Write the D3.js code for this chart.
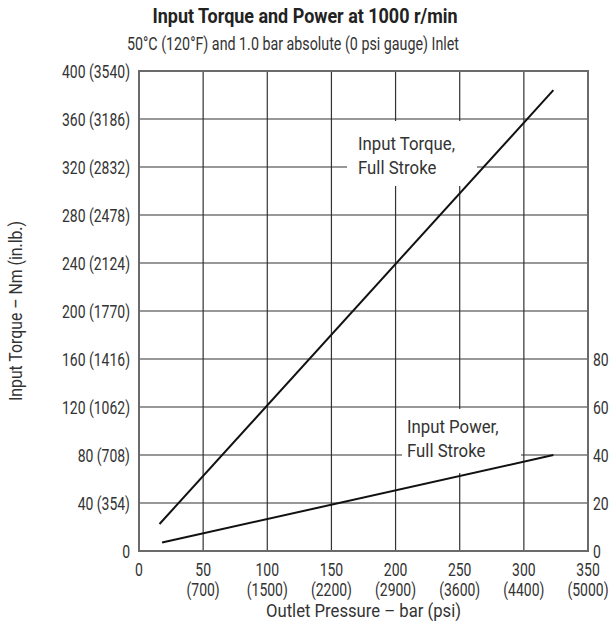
<!DOCTYPE html>
<html>
<head>
<meta charset="utf-8">
<script src="https://cdn.jsdelivr.net/npm/d3@7/dist/d3.min.js"></script>
<style>
  html, body { margin: 0; padding: 0; background: #fff; }
  svg { display: block; font-family: Roboto, "Liberation Sans", sans-serif; }
</style>
</head>
<body>
<div id="chart"></div>
<script>
// outlet pressure (bar) ticks and their psi equivalents
const barTicks = [0, 50, 100, 150, 200, 250, 300, 350];
const psiLabels = ['', '(700)', '(1500)', '(2200)', '(2900)', '(3600)', '(4400)', '(5000)'];

// torque (Nm) ticks and in.lb. equivalents
const torqueTicks = [0, 40, 80, 120, 160, 200, 240, 280, 320, 360, 400];
const inlbLabels = ['', '(354)', '(708)', '(1062)', '(1416)', '(1770)', '(2124)', '(2478)', '(2832)', '(3186)', '(3540)'];

// power (kW) ticks on the right
const powerTicks = [0, 20, 40, 60, 80];

// curves: [bar, value]
const torqueFull = [[16, 22.5], [323, 384]];
const powerFull = [[18, 3.5], [323, 40]];

const W = 612, H = 624;
const svg = d3.select('#chart').append('svg').attr('width', W).attr('height', H);

const x = d3.scaleLinear().domain([0, 350]).range([139, 588]);
const y = d3.scaleLinear().domain([0, 400]).range([551, 71]);
const yP = d3.scaleLinear().domain([0, 200]).range([551, 71]);

// the original uses a condensed face, so squeeze glyphs horizontally
function squeeze(sel, k) {
  sel.each(function () {
    const w = this.getComputedTextLength();
    d3.select(this).attr('textLength', w * k).attr('lengthAdjust', 'spacingAndGlyphs');
  });
}
function fit(sel, target) {
  const w = sel.node().getComputedTextLength();
  sel.attr('textLength', target).attr('lengthAdjust', 'spacingAndGlyphs');
  return target / w;
}

// titles
const title = svg.append('text').attr('x', 305).attr('y', 23).attr('text-anchor', 'middle')
  .attr('font-size', 20).attr('font-weight', 700).attr('fill', '#222')
  .text('Input Torque and Power at 1000 r/min');
fit(title, 305);
const sub = svg.append('text').attr('x', 293).attr('y', 50).attr('text-anchor', 'middle')
  .attr('font-size', 18).attr('fill', '#333')
  .text('50°C (120°F) and 1.0 bar absolute (0 psi gauge) Inlet');
fit(sub, 332);

// grid
const grid = svg.append('g').attr('stroke', '#333').attr('stroke-width', 1.2);
grid.selectAll('line.v').data(barTicks.slice(1, -1)).join('line')
  .attr('x1', d => x(d)).attr('x2', d => x(d)).attr('y1', y(0)).attr('y2', y(400));
grid.selectAll('line.h').data(torqueTicks.slice(1, -1)).join('line')
  .attr('x1', x(0)).attr('x2', x(350)).attr('y1', d => y(d)).attr('y2', d => y(d));

// label backgrounds knock out the grid
svg.append('rect').attr('x', 347).attr('y', 121).attr('width', 130).attr('height', 65).attr('fill', '#fff');
svg.append('rect').attr('x', 402).attr('y', 409).attr('width', 119).attr('height', 64).attr('fill', '#fff');

// frame
svg.append('rect').attr('x', x(0)).attr('y', y(400)).attr('width', x(350) - x(0)).attr('height', y(0) - y(400))
  .attr('fill', 'none').attr('stroke', '#6a6a6a').attr('stroke-width', 2);

// curves
svg.append('path').datum(torqueFull).attr('fill', 'none').attr('stroke', '#111').attr('stroke-width', 2)
  .attr('d', d3.line().x(d => x(d[0])).y(d => y(d[1])));
svg.append('path').datum(powerFull).attr('fill', 'none').attr('stroke', '#111').attr('stroke-width', 2)
  .attr('d', d3.line().x(d => x(d[0])).y(d => yP(d[1])));

// curve labels
const lab = svg.append('g').attr('font-size', 19).attr('fill', '#333');
const tq = lab.append('text').attr('x', 358).attr('y', 150).text('Input Torque,');
const kLab = fit(tq, 97);
squeeze(lab.append('text').attr('x', 358).attr('y', 174).text('Full Stroke'), kLab);
squeeze(lab.append('text').attr('x', 407).attr('y', 433).text('Input Power,'), kLab);
squeeze(lab.append('text').attr('x', 407).attr('y', 457).text('Full Stroke'), kLab);

// left axis labels
const left = svg.append('g').attr('font-size', 19).attr('fill', '#333').attr('text-anchor', 'end');
const leftText = left.selectAll('text').data(torqueTicks).join('text')
  .attr('x', 130).attr('y', d => y(d) + 7)
  .text((d, i) => i === 0 ? '0' : `${d} ${inlbLabels[i]}`);
const kTick = 68 / leftText.filter(d => d === 400).node().getComputedTextLength();
squeeze(leftText, kTick);

// right axis labels
const right = svg.append('g').attr('font-size', 19).attr('fill', '#333')
  .selectAll('text').data(powerTicks).join('text')
  .attr('x', 593).attr('y', d => yP(d) + 7).text(d => d);
squeeze(right, kTick);

// bottom axis labels
const bottom = svg.append('g').attr('font-size', 19).attr('fill', '#333').attr('text-anchor', 'middle');
squeeze(bottom.selectAll('text.b').data(barTicks).join('text').attr('class', 'b')
  .attr('x', d => x(d)).attr('y', 576).text(d => d), kTick);
squeeze(bottom.selectAll('text.p').data(barTicks.slice(1)).join('text').attr('class', 'p')
  .attr('x', d => x(d)).attr('y', 596).text((d, i) => psiLabels[i + 1]), kTick);

// axis titles
fit(svg.append('text').attr('x', x(175)).attr('y', 617).attr('text-anchor', 'middle')
  .attr('font-size', 19).attr('fill', '#333').text('Outlet Pressure – bar (psi)'), 195);
fit(svg.append('text').attr('transform', `translate(22,${y(200)}) rotate(-90)`).attr('text-anchor', 'middle')
  .attr('font-size', 19).attr('fill', '#333').text('Input Torque – Nm (in.lb.)'), 180);
</script>
</body>
</html>
